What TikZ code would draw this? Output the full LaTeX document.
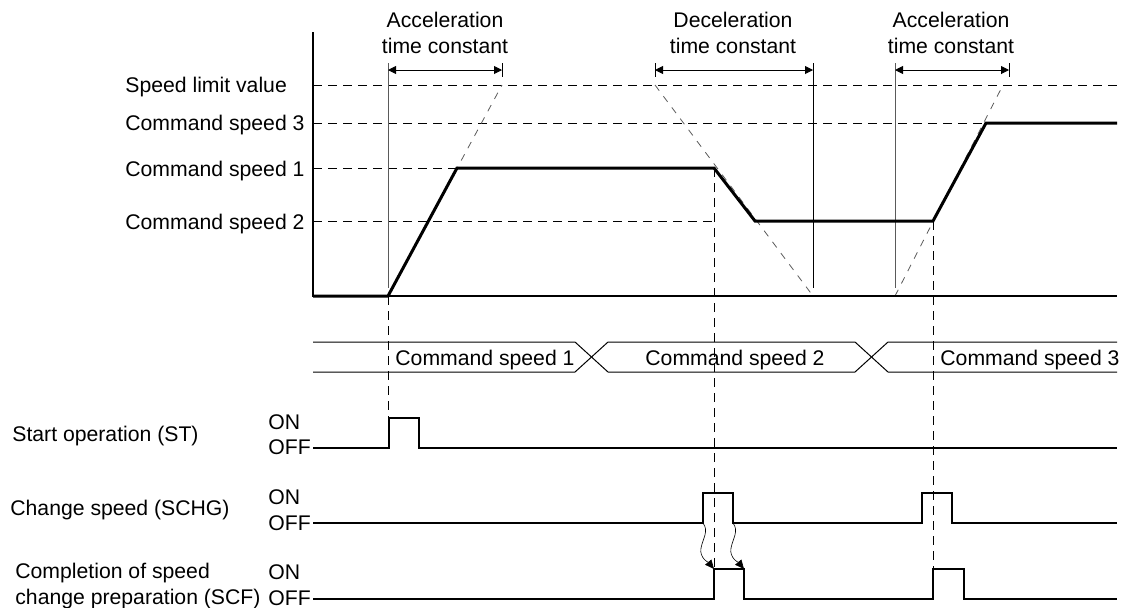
\documentclass[tikz,border=0pt]{standalone}
\usepackage{fontspec}
\setmainfont{Liberation Sans}
\usetikzlibrary{arrows.meta, positioning, calc}
\definecolor{cGuide}{RGB}{90,90,90}
\tikzset{
	lbl/.style={font=\fontsize{10.6}{13}\selectfont, inner sep=0pt, anchor=west, text height=0.72em, text depth=0pt},
	twolbl/.style={font=\fontsize{10.6}{13}\selectfont, inner sep=0pt, align=center},
	speedline/.style={line width=1.5pt, line join=miter},
	axisline/.style={line width=0.9pt},
	refdash/.style={line width=0.45pt, dash pattern=on 4.5pt off 3pt},
	guidedash/.style={line width=0.4pt, cGuide, dash pattern=on 3.5pt off 3.5pt},
	tickline/.style={line width=0.45pt},
	spanarrow/.style={line width=0.45pt, {Triangle[length=4pt,width=4pt]}-{Triangle[length=4pt,width=4pt]}},
	sigline/.style={line width=0.9pt, line join=miter},
	bandline/.style={line width=0.5pt},
	wavearrow/.style={line width=0.3pt, -{Triangle[length=4.5pt,width=4pt]}},
}

\begin{document}
\begin{tikzpicture}[x=0.5pt, y=-0.5pt]
	\useasboundingbox (0,0) rectangle (1123,607);

	% speed levels
	\node[lbl] (lim) at (125,85)  {Speed limit value};
	\node[lbl] (v3)  at (125,123) {Command speed 3};
	\node[lbl] (v1)  at (125,169) {Command speed 1};
	\node[lbl] (v2)  at (125,222) {Command speed 2};

	\coordinate (p0) at (313,296);
	\coordinate (p1) at (388,296);
	\coordinate (p2) at (457,168);
	\coordinate (p3) at (714,168);
	\coordinate (p4) at (755,221);
	\coordinate (p5) at (933,221);
	\coordinate (p6) at (986,123);
	\coordinate (p7) at (1117,123);

	\draw[refdash] (313,85) -- (1117,85);
	\draw[refdash] (313,123) -- (p6);
	\draw[refdash] (313,168) -- (p2);
	\draw[refdash] (313,221) -- (714,221);

	% time constant guides
	\draw[guidedash] (p1) -- (502,85);
	\draw[guidedash] (655,85) -- (813,296);
	\draw[guidedash] (895,296) -- (1003,85);

	\draw[tickline, cGuide] (388,63) -- (388,288);
	\draw[tickline] (502,63) -- (502,77);
	\draw[spanarrow] (388,70) -- (502,70);
	\draw[tickline] (655,63) -- (655,77);
	\draw[tickline] (813,63) -- (813,288);
	\draw[spanarrow] (655,70) -- (813,70);
	\draw[tickline, cGuide] (895,63) -- (895,288);
	\draw[tickline] (1009,63) -- (1009,77);
	\draw[spanarrow] (895,70) -- (1009,70);

	\node[twolbl] (acc1) at (445,33) {Acceleration\\time constant};
	\node[twolbl] (dec)  at (733,33) {Deceleration\\time constant};
	\node[twolbl] (acc2) at (951,33) {Acceleration\\time constant};

	% axes and profile
	\draw[axisline] (313,32) -- (p0) -- (1117,296);
	\draw[speedline] (p0) -- (p1) -- (p2) -- (p3) -- (p4) -- (p5) -- (p6) -- (p7);

	% command speed band
	\draw[bandline] (313,342) -- (575,342) -- (608,372) -- (855,372) -- (888,342) -- (1117,342);
	\draw[bandline] (313,372) -- (575,372) -- (608,342) -- (855,342) -- (888,372) -- (1117,372);
	\node[lbl] (c1) at (395,358) {Command speed 1};
	\node[lbl] (c2) at (645,358) {Command speed 2};
	\node[lbl] (c3) at (940,358) {Command speed 3};

	% signals
	\node[lbl] (st) at (12,434) {Start operation (ST)};
	\node[lbl] (stOn)  at (268,422) {ON};
	\node[lbl] (stOff) at (268,447) {OFF};
	\node[lbl] (schg) at (10,508) {Change speed (SCHG)};
	\node[lbl] (schgOn)  at (268,497) {ON};
	\node[lbl] (schgOff) at (268,523) {OFF};
	\node[twolbl, anchor=west, align=left] (scf) at (15,586) {Completion of speed\\change preparation (SCF)};
	\node[lbl] (scfOn)  at (268,572) {ON};
	\node[lbl] (scfOff) at (268,598) {OFF};

	\draw[sigline] (313,448) -- (389,448) -- (389,418) -- (419,418) -- (419,448) -- (1117,448);
	\draw[sigline] (313,523) -- (703,523) -- (703,493) -- (733,493) -- (733,523)
		-- (922,523) -- (922,493) -- (952,493) -- (952,523) -- (1117,523);
	\draw[sigline] (313,599) -- (714,599) -- (714,569) -- (744,569) -- (744,599)
		-- (933,599) -- (933,569) -- (964,569) -- (964,599) -- (1117,599);

	\draw[refdash] (p1) -- (388,418);
	\draw[refdash] (p3) -- (714,569);
	\draw[refdash] (p5) -- (933,569);

	\coordinate (chgUp) at (703,523);
	\coordinate (chgDn) at (733,523);
	\coordinate (scfUp) at (714,569);
	\coordinate (scfDn) at (744,569);
	\draw[wavearrow] (chgUp) .. controls +(6,8) and +(2,-10) .. (701,548) .. controls +(-2,10) and +(-5,-6) .. (scfUp);
	\draw[wavearrow] (chgDn) .. controls +(6,8) and +(2,-10) .. (731,548) .. controls +(-2,10) and +(-5,-6) .. (scfDn);
\end{tikzpicture}
\end{document}
